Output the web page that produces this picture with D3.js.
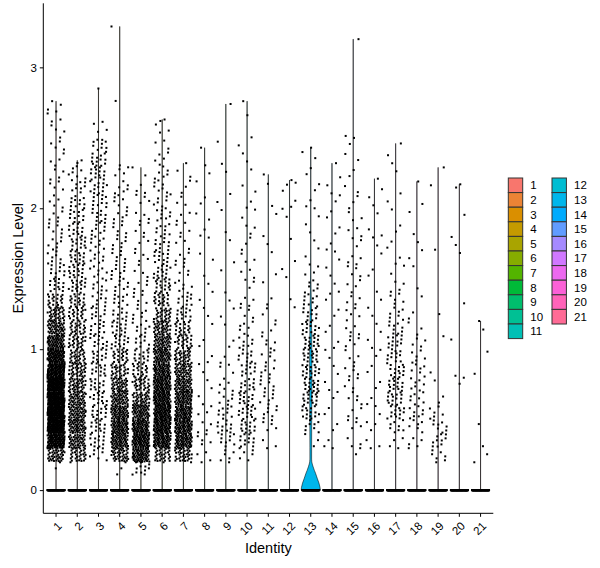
<!DOCTYPE html>
<html><head><meta charset="utf-8">
<script src="https://cdn.jsdelivr.net/npm/d3@7"></script>
<style>body{margin:0;background:#fff}svg{display:block;font-family:"Liberation Sans",Arial,sans-serif}</style>
</head><body><svg id="c" width="600" height="568"></svg>
<script>
// ---- data ----
const clusters = ["1","2","3","4","5","6","7","8","9","10","11","12","13","14","15","16","17","18","19","20","21"];
const binWidth = 0.1;
// counts of nonzero cells per 0.1-wide expression bin (bin 0 = 0-0.1, bin 1 = 0.1-0.2, ...)
const binCounts = [
  [0,2,40,120,150,150,150,150,120,100,70,50,35,22,14,10,8,7,6,5,5,4,4,4,4,4,4,3],
  [0,1,30,45,55,50,45,40,35,30,28,25,22,20,18,17,16,15,13,12,11,9,7,2],
  [0,0,8,12,14,14,14,14,14,14,12,11,10,9,8,8,8,8,9,10,11,12,14,13,10,3,1,0,1],
  [0,3,40,65,70,65,50,40,30,22,16,14,11,10,9,8,7,7,6,6,6,6,4,1,0,0,0,1,0,0,0,0,1],
  [0,12,70,85,75,60,40,30,20,15,10,8,7,6,5,4,4,4,4,4,4,3,2],
  [0,1,30,80,90,90,85,80,70,60,50,40,30,22,18,15,12,10,9,9,7,7,6,5,3,3,2],
  [0,1,35,70,75,70,65,55,45,35,25,20,14,10,7,5,5,4,4,3,3,3,2,1],
  [0,1,3,5,4,3,2,2,2,2,2,1,2,1,2,1,2,1,2,2,2,1,1,1,1],
  [0,1,5,9,11,9,7,5,3,2,2,1,2,1,1,1,1,1,1,1,1,1,1,1,1,0,0,1],
  [0,0,6,12,15,15,14,13,12,10,8,6,4,4,3,3,3,3,3,2,2,2,1,2,1,1,1,1],
  [0,0,1,2,5,7,7,7,6,6,5,3,3,2,1,1,1,1,1,1,1,1,1],
  [0,0,0,0,0,0,0,0,0,0,0,0,1,1,0,2,1,1,0,2,2,3,1],
  [0,0,0,3,8,15,17,18,18,18,17,14,11,9,7,3,2,2,2,2,2,2,2,2,1],
  [0,0,1,2,2,2,2,2,2,2,2,2,2,2,2,2,2,2,2,2,2,2,1,1],
  [0,0,2,3,4,4,5,4,5,4,5,4,5,4,4,4,4,3,3,3,3,2,2,2,2,1,0,0,0,0,0,0,1],
  [0,0,1,2,3,2,2,2,2,2,2,2,2,1,1,2,1,2,2,1,2,1,1],
  [0,0,1,3,8,14,15,15,14,13,12,9,7,5,4,2,2,2,2,1,1,1,1,2,1],
  [0,0,1,4,6,8,7,7,6,6,4,3,2,1,1,1,1,2,1,1,1,1],
  [0,1,6,10,8,6,2,1,1,0,1,0,1,0,0,0,0,1,0,0,0,1,1],
  [0,0,0,0,0,0,0,2,1,0,1,0,0,1,0,0,1,2,0,1,0,2],
  [0,1,1,1,1,0,0,0,1,1,0,1,1]
];
// maximum expression per cluster (top of each violin)
const maxValues = [2.76,2.34,2.85,3.29,2.29,2.63,2.32,2.43,2.74,2.76,2.24,2.20,2.43,2.32,3.20,2.21,2.46,2.19,2.29,2.17,1.20];
// cells with zero expression per cluster (estimated; they form the bar at 0)
const zeroCounts = [150,150,150,150,150,150,150,150,150,150,150,150,150,150,150,150,150,150,150,150,150];
// violin width profile of cluster 13 [expression, relative half-width]
const violin13 = [[0,1],[0.02,0.97],[0.05,0.86],[0.08,0.7],[0.1,0.6],[0.12,0.5],[0.14,0.38],[0.165,0.25],[0.185,0.16],[0.2,0.11],[0.22,0.09],[0.3,0.09],[0.5,0.1],[0.7,0.12],[0.9,0.12],[1.1,0.1],[1.3,0.07],[1.42,0.035],[1.6,0.012],[2.43,0.008]];
const yTicks = [0,1,2,3];

// ---- colours: ggplot2 hue_pal (hcl in polar Luv) ----
function hclHex(h,c,l){
  const hr=h*Math.PI/180, U=c*Math.cos(hr), V=c*Math.sin(hr);
  const Y=100*(l>7.999592?Math.pow((l+16)/116,3):l/903.3);
  const Xn=95.047,Yn=100,Zn=108.883,t=Xn+Yn+Zn,x=Xn/t,y=Yn/t;
  const uN=2*x/(6*y-x+1.5), vN=4.5*y/(6*y-x+1.5);
  const u=U/(13*l)+uN, v=V/(13*l)+vN;
  const X=9*Y*u/(4*v), Z=-X/3-5*Y+3*Y/v;
  const g=a=>{a=a<=0.0031308?12.92*a:1.055*Math.pow(a,1/2.4)-0.055;return Math.max(0,Math.min(255,Math.round(a*255)));};
  const r=g((3.240479*X-1.537150*Y-0.498535*Z)/100),
        gg=g((-0.969256*X+1.875992*Y+0.041556*Z)/100),
        b=g((0.055648*X-0.204043*Y+1.057311*Z)/100);
  return d3.rgb(r,gg,b).formatHex();
}
const n=clusters.length;
const colors=clusters.map((d,i)=>hclHex(15+360*i/n,100,65));

// ---- layout ----
const svg=d3.select("#c");
const P={l:43.3,r:493.3,t:3.3,b:513.3};
const x=d3.scaleBand().domain(clusters).range([P.l,P.r]).paddingInner(0).paddingOuter(0.1);
const cx=c=>x(c)+x.bandwidth()/2;
const y=d3.scaleLinear().domain([-0.1645,3.4545]).range([P.b,P.t]);
const halfW=x.step()*0.45, jitW=x.step()*0.4;

// violins
const area=d3.area().x0(d=>d.cx-halfW*d.w).x1(d=>d.cx+halfW*d.w).y(d=>y(d.v));
clusters.forEach((c,i)=>{
  const prof = c==="13" ? violin13 : [[0,1],[0.0005,0.006],[maxValues[i],0.006]];
  const pts=prof.map(p=>({v:p[0],w:p[1],cx:cx(c)}));
  svg.append("path").attr("d",area(pts)).attr("fill",colors[i]).attr("stroke","#000").attr("stroke-width",0.55);
});

// points (deterministic quasi-random jitter)
const frac=v=>v-Math.floor(v);
const pts=[];
clusters.forEach((c,i)=>{
  let k=0;
  for(let z=0;z<zeroCounts[i];z++){pts.push({c,v:0,j:frac(0.5+(k++)*0.7548776662+i*0.37)});}
  const bins=binCounts[i];
  let topBin=bins.length-1; while(topBin>0&&bins[topBin]===0) topBin--;
  bins.forEach((cnt,b)=>{
    const lo=b*binWidth, hi=Math.max(lo,Math.min((b+1)*binWidth,maxValues[i]));
    for(let m=0;m<cnt;m++){
      let v=Math.min(maxValues[i],lo+frac(0.5+k*0.5698402910)*(hi-lo));
      if(b===topBin&&m===0) v=maxValues[i];
      pts.push({c,v,j:frac(0.5+(k++)*0.7548776662+i*0.37)});
    }
  });
});
svg.append("g").selectAll("rect").data(pts).join("rect")
  .attr("x",d=>cx(d.c)+(d.j-0.5)*2*jitW-1).attr("y",d=>y(d.v)-1)
  .attr("width",2).attr("height",2).attr("fill","#000");

// axes
const ax=svg.append("g").attr("transform",`translate(${P.l},0)`)
  .call(d3.axisLeft(y).tickValues(yTicks).tickFormat(d3.format("d")).tickSize(3.5).tickPadding(3).tickSizeOuter(0));
ax.select(".domain").attr("d",`M0,${P.t}V${P.b}`);
ax.selectAll("text").attr("font-size",11.5).attr("fill","#000").attr("font-family","Liberation Sans,Arial,sans-serif");
const bx=svg.append("g").attr("transform",`translate(0,${P.b})`)
  .call(d3.axisBottom(x).tickSize(3.5).tickSizeOuter(0));
bx.select(".domain").attr("d",`M${P.l},0H${P.r}`);
bx.selectAll("text").attr("font-size",11.5).attr("fill","#000").attr("font-family","Liberation Sans,Arial,sans-serif")
  .attr("text-anchor","end").attr("dy",null).attr("y",0)
  .attr("transform","translate(6.5,13.5) rotate(-45)");
svg.selectAll(".domain,.tick line").attr("stroke","#000").attr("stroke-width",1);

// axis titles
svg.append("text").attr("x",P.l+(P.r-P.l)/2).attr("y",553).attr("text-anchor","middle")
  .attr("font-size",14.5).text("Identity");
svg.append("text").attr("transform",`translate(23,${(P.t+P.b)/2}) rotate(-90)`).attr("text-anchor","middle")
  .attr("font-size",14.5).text("Expression Level");

// legend
const kh=14.6, kw=14.4, ky0=178;
clusters.forEach((c,i)=>{
  const col=i<11?0:1, row=i<11?i:i-11;
  const kx=col===0?508.3:552, yy=ky0+row*kh;
  svg.append("rect").attr("x",kx).attr("y",yy).attr("width",kw).attr("height",kh)
    .attr("fill",colors[i]).attr("stroke","#333").attr("stroke-width",1);
  svg.append("text").attr("x",kx+22).attr("y",yy+kh/2+4).attr("font-size",11.5).text(c);
});
</script></body></html>
